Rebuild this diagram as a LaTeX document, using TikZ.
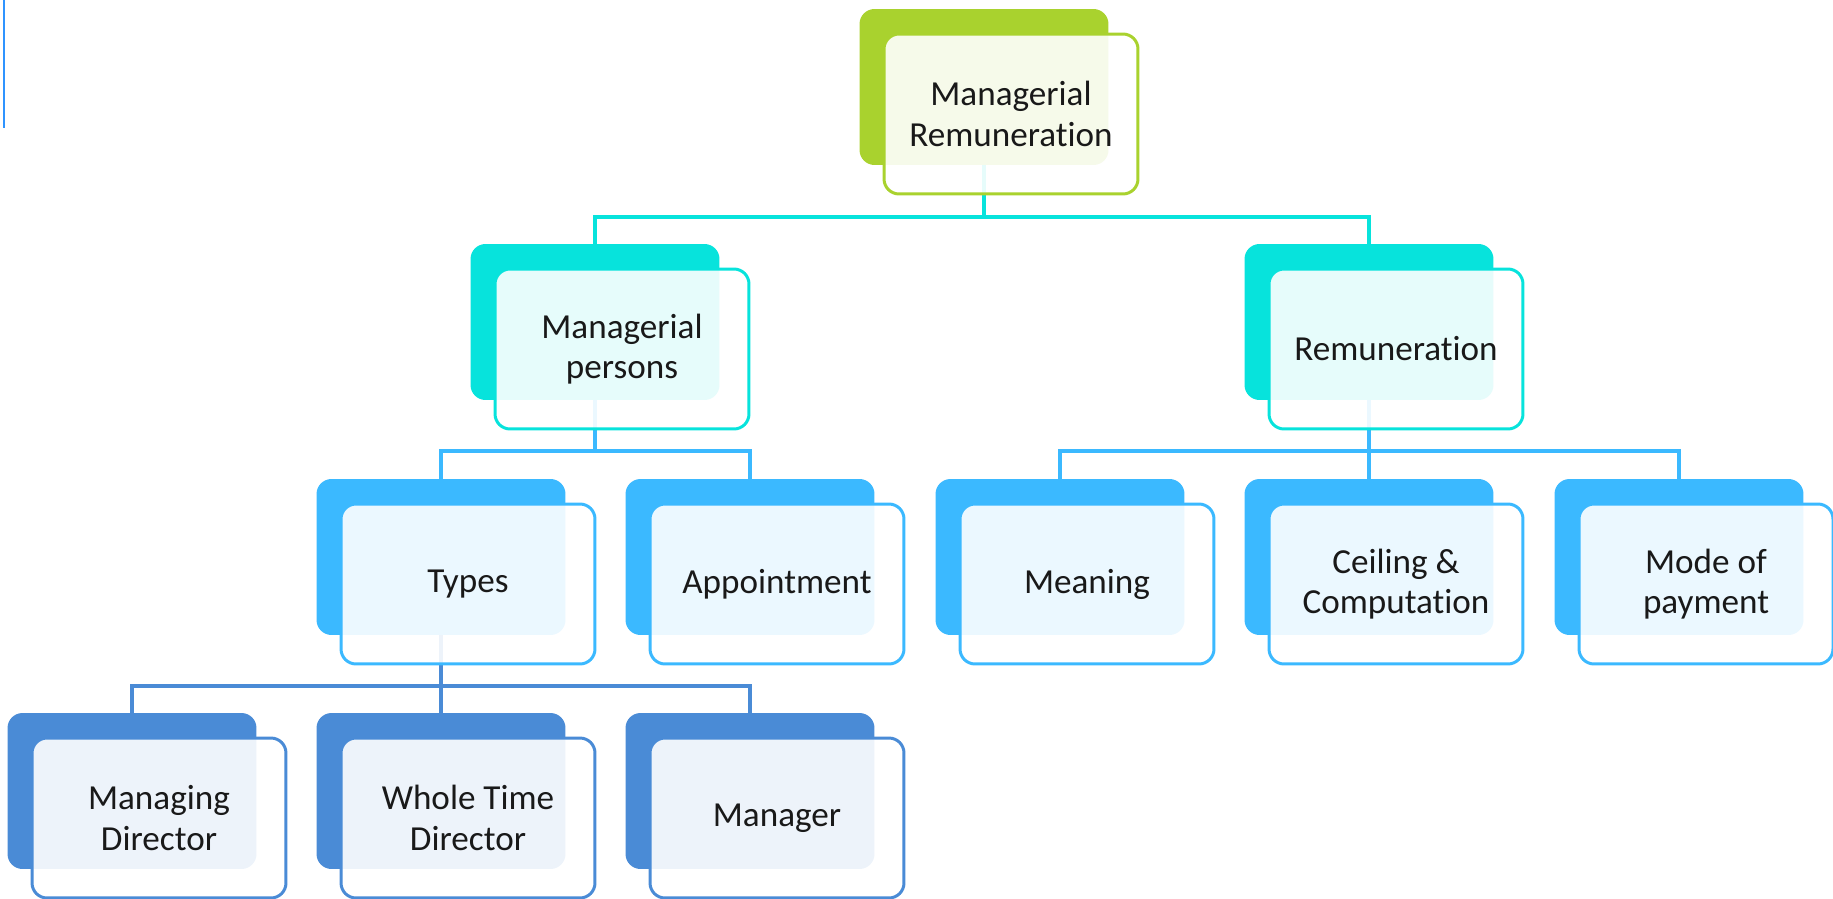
\documentclass[tikz,border=0pt]{standalone}
\usepackage{fontspec}
\setmainfont{Carlito}[Ligatures={NoCommon}]
\usetikzlibrary{positioning, calc}

\definecolor{lvlgreen}{HTML}{A9D22E}
\definecolor{lvlcyan}{HTML}{07E3DC}
\definecolor{lvlsky}{HTML}{3BB9FF}
\definecolor{lvlblue}{HTML}{4A8BD6}

\begin{document}
\begin{tikzpicture}[x=0.02cm, y=-0.02cm,
    every node/.style={font=\fontsize{20}{23}\selectfont},
    back/.style={rectangle, rounded corners=0.3cm, minimum width=4.98cm, minimum height=3.12cm, inner sep=0pt},
    front/.style={rectangle, draw, rounded corners=0.3cm, line width=1.7pt, fill=white, fill opacity=0.9, text opacity=1, text=black!90, align=center, minimum width=5.08cm, minimum height=3.2cm, inner sep=0pt},
    line/.style={draw, line width=2.2pt}]

\useasboundingbox (0,0) rectangle (1833,899);
\draw[lvlsky!80!blue, line width=1.2pt] (4,0) -- (4,128);

% Back boxes
\node[back, fill=lvlgreen] (top-b) at (984,87) {};
\node[back, fill=lvlcyan] (pers-b) at (595,322) {};
\node[back, fill=lvlcyan] (rem-b) at (1369,322) {};
\node[back, fill=lvlsky] (types-b) at (441,557) {};
\node[back, fill=lvlsky] (appt-b) at (750,557) {};
\node[back, fill=lvlsky] (mean-b) at (1060,557) {};
\node[back, fill=lvlsky] (ceil-b) at (1369,557) {};
\node[back, fill=lvlsky] (mode-b) at (1679,557) {};
\node[back, fill=lvlblue] (md-b) at (132,791) {};
\node[back, fill=lvlblue] (wtd-b) at (441,791) {};
\node[back, fill=lvlblue] (mgr-b) at (750,791) {};

% Paths
\draw [line, lvlcyan] (top-b.south) -- ++(0,52) -| (pers-b.north);
\draw [line, lvlcyan] (top-b.south) -- ++(0,52) -| (rem-b.north);
\draw [line, lvlsky] (pers-b.south) -- ++(0,51) -| (types-b.north);
\draw [line, lvlsky] (pers-b.south) -- ++(0,51) -| (appt-b.north);
\draw [line, lvlsky] (rem-b.south) -- ++(0,51) -| (mean-b.north);
\draw [line, lvlsky] (rem-b.south) -- ++(0,51) -| (ceil-b.north);
\draw [line, lvlsky] (rem-b.south) -- ++(0,51) -| (mode-b.north);
\draw [line, lvlblue] (types-b.south) -- ++(0,51) -| (md-b.north);
\draw [line, lvlblue] (types-b.south) -- ++(0,51) -| (wtd-b.north);
\draw [line, lvlblue] (types-b.south) -- ++(0,51) -| (mgr-b.north);

% Front boxes
\node[front, draw=lvlgreen] (top) at ($(top-b)+(27,27)$) {Managerial\\Remuneration};
\node[front, draw=lvlcyan] (pers) at ($(pers-b)+(27,27)$) {Managerial\\persons};
\node[front, draw=lvlcyan] (rem) at ($(rem-b)+(27,27)$) {Remuneration};
\node[front, draw=lvlsky] (types) at ($(types-b)+(27,27)$) {Types};
\node[front, draw=lvlsky] (appt) at ($(appt-b)+(27,27)$) {Appointment};
\node[front, draw=lvlsky] (mean) at ($(mean-b)+(27,27)$) {Meaning};
\node[front, draw=lvlsky] (ceil) at ($(ceil-b)+(27,27)$) {Ceiling \&\\Computation};
\node[front, draw=lvlsky] (mode) at ($(mode-b)+(27,27)$) {Mode of\\payment};
\node[front, draw=lvlblue] (md) at ($(md-b)+(27,27)$) {Managing\\Director};
\node[front, draw=lvlblue] (wtd) at ($(wtd-b)+(27,27)$) {Whole Time\\Director};
\node[front, draw=lvlblue] (mgr) at ($(mgr-b)+(27,27)$) {Manager};

\end{tikzpicture}
\end{document}
